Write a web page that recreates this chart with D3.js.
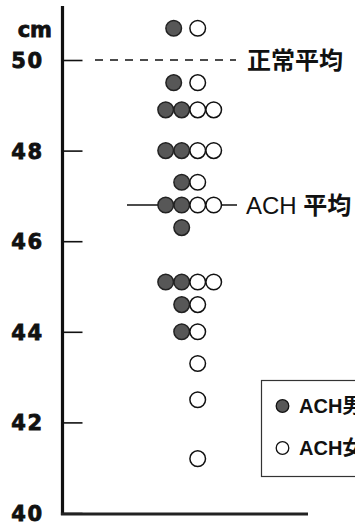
<!DOCTYPE html>
<html>
<head>
<meta charset="utf-8">
<script src="https://cdn.jsdelivr.net/npm/d3@7"></script>
<style>
  html, body { margin: 0; padding: 0; background: #fff; }
  svg { display: block; }
</style>
</head>
<body>
<script>
// Birth length of children with achondroplasia (ACH), one dot per child
const heights = [50.7, 49.5, 48.9, 48.0, 47.3, 46.8, 46.3, 45.1, 44.6, 44.0, 43.3, 42.5, 41.2];
const boys    = [1, 1, 2, 2, 1, 2, 1, 2, 1, 1, 0, 0, 0];
const girls   = [1, 1, 2, 2, 1, 2, 0, 2, 1, 1, 1, 1, 1];
const looseRows = [50.7, 49.5];          // rows drawn with a wider gap
const tickValues = [40, 42, 44, 46, 48, 50];
const unitLabel = "cm";
const normalMean = 50.0;
const achMean = 46.8;
const normalLabel = "正常平均";
const achLabel = "ACH 平均";
const legendLabels = ["ACH男児", "ACH女児"];

const W = 355, H = 526;
const svg = d3.select("body").append("svg").attr("width", W).attr("height", H);
svg.append("rect").attr("width", W).attr("height", H).attr("fill", "#fff");

const y = d3.scaleLinear().domain([40, 50]).range([513, 60]);
const slot = d3.scaleLinear().domain([0, 3]).range([165.7, 213.7]);
const axisX = 62.5;

const numFont = "'DejaVu Sans', sans-serif";

// y axis: ticks to the right, heavy labels to the left
const axis = d3.axisLeft(y).tickValues(tickValues).tickSize(-20).tickPadding(19)
  .tickFormat(d3.format("d"));
const gAxis = svg.append("g").attr("transform", `translate(${axisX},0)`).call(axis);
gAxis.select(".domain").remove();
gAxis.selectAll(".tick line").attr("stroke", "#111").attr("stroke-width", 1.6);
gAxis.selectAll(".tick text")
  .attr("font-family", numFont).attr("font-weight", "bold")
  .attr("font-size", 21).attr("fill", "#111")
  .attr("stroke", "#111").attr("stroke-width", 0.8)
  .attr("letter-spacing", 1.5).attr("dy", "0.36em");

svg.append("text").text(unitLabel)
  .attr("x", 52).attr("y", 37).attr("text-anchor", "end")
  .attr("font-family", numFont).attr("font-weight", "bold")
  .attr("font-size", 21).attr("fill", "#111")
  .attr("stroke", "#111").attr("stroke-width", 0.8);

// axis frame
svg.append("line").attr("x1", axisX).attr("x2", axisX).attr("y1", 6).attr("y2", y(40) + 2)
  .attr("stroke", "#111").attr("stroke-width", 3.2);
svg.append("line").attr("x1", axisX - 1.6).attr("x2", 308).attr("y1", y(40) + 1).attr("y2", y(40) + 1)
  .attr("stroke", "#222").attr("stroke-width", 3);

// normal mean (dashed)
svg.append("line").attr("x1", 95).attr("x2", 236).attr("y1", y(normalMean)).attr("y2", y(normalMean))
  .attr("stroke", "#111").attr("stroke-width", 1.6).attr("stroke-dasharray", "8,7");
svg.append("text").text(normalLabel)
  .attr("x", 247).attr("y", y(normalMean)).attr("dy", "0.36em")
  .attr("font-family", "'Noto Sans CJK JP', sans-serif").attr("font-weight", "bold")
  .attr("font-size", 24).attr("fill", "#111");

// ACH mean
svg.append("line").attr("x1", 127).attr("x2", 237).attr("y1", y(achMean)).attr("y2", y(achMean))
  .attr("stroke", "#111").attr("stroke-width", 1.4);
const achText = svg.append("text")
  .attr("x", 246).attr("y", y(achMean)).attr("dy", "0.36em")
  .attr("font-size", 24).attr("fill", "#111");
achText.append("tspan").text(achLabel.split(" ")[0] + " ")
  .attr("font-family", "'Liberation Sans', Arial, sans-serif");
achText.append("tspan").text(achLabel.split(" ")[1])
  .attr("font-family", "'Noto Sans CJK JP', sans-serif").attr("font-weight", "bold");

// dots
const dots = [];
heights.forEach((h, i) => {
  const loose = looseRows.includes(h);
  for (let k = 0; k < boys[i]; k++) {
    const s = loose ? 0.5 : 1 - k;
    dots.push({ h, s, boy: true });
  }
  for (let k = 0; k < girls[i]; k++) {
    dots.push({ h, s: 2 + k, boy: false });
  }
});

svg.append("g").selectAll("circle").data(dots).join("circle")
  .attr("cx", d => slot(d.s)).attr("cy", d => y(d.h)).attr("r", 7.8)
  .attr("fill", d => d.boy ? "#575757" : "#fff")
  .attr("stroke", d => d.boy ? "#222" : "#111")
  .attr("stroke-width", 1.5);

// legend (box runs past the right edge)
const lg = svg.append("g");
lg.append("rect").attr("x", 261.5).attr("y", 380.5).attr("width", 120).attr("height", 96)
  .attr("fill", "#fff").attr("stroke", "#333").attr("stroke-width", 1.2);
legendLabels.forEach((lab, i) => {
  const cy = 406 + i * 42;
  lg.append("circle").attr("cx", 282.5).attr("cy", cy).attr("r", 6.3)
    .attr("fill", i === 0 ? "#575757" : "#fff").attr("stroke", "#111").attr("stroke-width", 1.3);
  const t = lg.append("text").attr("x", 299).attr("y", cy).attr("dy", "0.36em")
    .attr("font-size", 20).attr("fill", "#111").attr("font-weight", "bold");
  t.append("tspan").text(lab.slice(0, 3)).attr("font-family", "'Liberation Sans', Arial, sans-serif");
  t.append("tspan").text(lab.slice(3)).attr("font-family", "'Noto Sans CJK JP', sans-serif");
});
</script>
</body>
</html>
